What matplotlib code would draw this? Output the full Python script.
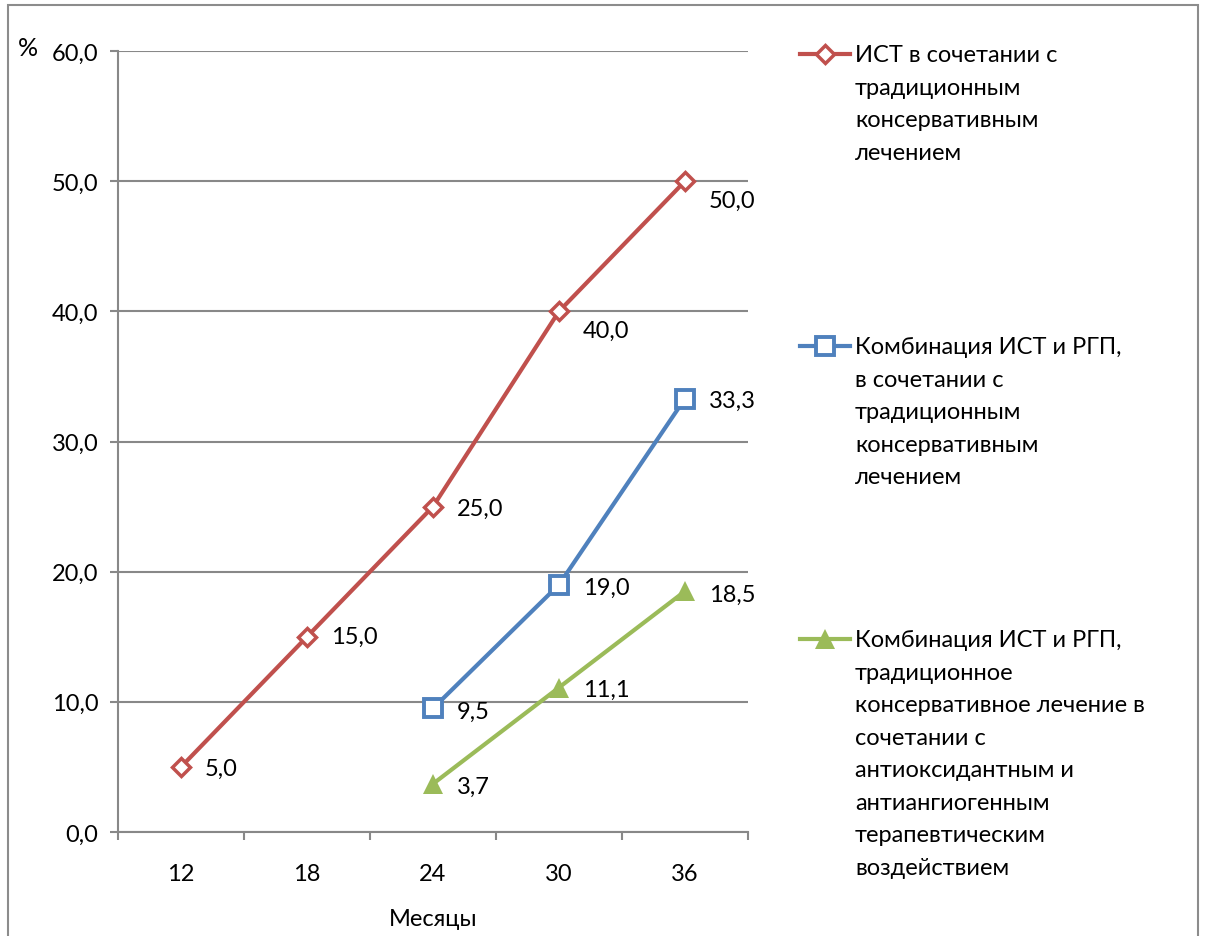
import matplotlib
matplotlib.use("Agg")
import matplotlib.pyplot as plt
from matplotlib.lines import Line2D
from matplotlib.patches import Rectangle

plt.rcParams['font.family'] = ['Lato', 'DejaVu Sans']

# Data
months = ["12", "18", "24", "30", "36"]
ist_trad = [5.0, 15.0, 25.0, 40.0, 50.0]
ist_rgp_trad = [None, None, 9.5, 19.0, 33.3]
ist_rgp_antiox = [None, None, 3.7, 11.1, 18.5]
yticks = [0, 10, 20, 30, 40, 50, 60]
legend_labels = [
    "ИСТ в сочетании с\nтрадиционным\nконсервативным\nлечением",
    "Комбинация ИСТ и РГП,\nв сочетании с\nтрадиционным\nконсервативным\nлечением",
    "Комбинация ИСТ и РГП,\nтрадиционное\nконсервативное лечение в\nсочетании с\nантиоксидантным и\nантиангиогенным\nтерапевтическим\nвоздействием",
]

RED = "#C0504D"
BLUE = "#4F81BD"
GREEN = "#9BBB59"
GRID = "#888888"
FS = 17

W, H = 1205, 937
fig = plt.figure(figsize=(W / 100, H / 100), dpi=100)
fig.patch.set_facecolor("white")
fig.patches.append(Rectangle((8 / W, -0.01), (1198 - 8) / W, 1 - 6 / H + 0.01,
                             transform=fig.transFigure, fill=False,
                             edgecolor="#8c8c8c", linewidth=1.5))

ax = fig.add_axes([118 / W, 1 - 833 / H, (748 - 118) / W, (833 - 52) / H])

series = [
    (ist_trad, RED, dict(marker="D", markersize=9, markerfacecolor="white",
                         markeredgewidth=2.5, markeredgecolor=RED)),
    (ist_rgp_trad, BLUE, dict(marker="s", markersize=13, markerfacecolor="white",
                              markeredgewidth=2.8, markeredgecolor=BLUE)),
    (ist_rgp_antiox, GREEN, dict(marker="^", markersize=14, markerfacecolor=GREEN,
                                 markeredgewidth=0, markeredgecolor=GREEN)),
]

# vertical label offsets (points) for each series/value
label_dy = [
    [-1, 0, -1, -14, -14],
    [0, 0, -2, -2, -1],
    [-2, -2, -2, -1, -2],
]

handles = []
for si, (vals, col, mk) in enumerate(series):
    xs = [i for i, v in enumerate(vals) if v is not None]
    ys = [v for v in vals if v is not None]
    ax.plot(xs, ys, color=col, linewidth=3, solid_joinstyle="round", zorder=3, **mk)
    handles.append((col, mk))
    for x, y in zip(xs, ys):
        ax.annotate(f"{y:.1f}".replace(".", ","), (x, y), xytext=(17, label_dy[si][x]),
                    textcoords="offset points", ha="left", va="center",
                    fontsize=FS, color="black", zorder=4)

ax.set_xlim(-0.5, 4.5)
ax.set_ylim(0, 60)
ax.set_yticks(yticks)
ax.set_yticklabels([f"{v:.1f}".replace(".", ",") for v in yticks], fontsize=FS)
ax.set_xticks(range(len(months)))
ax.set_xticklabels(months, fontsize=FS)
ax.set_xticks([i - 0.5 for i in range(len(months) + 1)], minor=True)
ax.tick_params(axis="x", which="major", length=0, pad=22)
ax.tick_params(axis="x", which="minor", length=6, width=1.5, color=GRID, direction="out")
ax.tick_params(axis="y", length=6, width=1.5, color=GRID, direction="out", pad=8)
ax.yaxis.grid(True, color=GRID, linewidth=1.5)
ax.set_axisbelow(True)
for s in ["top", "right"]:
    ax.spines[s].set_visible(False)
for s in ["left", "bottom"]:
    ax.spines[s].set_color(GRID)
    ax.spines[s].set_linewidth(1.5)

fig.text(433 / W, 1 - 920 / H, "Месяцы", fontsize=FS, ha="center", va="center")
fig.text(18 / W, 1 - 48 / H, "%", fontsize=FS + 1, ha="left", va="center")

# legend, drawn beside the plot area
legend_rows = [55, 347, 640]
for (col, mk), label, row in zip(handles, legend_labels, legend_rows):
    y = 1 - row / H
    fig.add_artist(Line2D([800 / W, 825 / W, 850 / W], [y, y, y], transform=fig.transFigure,
                          color=col, linewidth=3, markevery=[1], **mk))
    fig.text(855 / W, 1 - (row - 10) / H, label, fontsize=FS, ha="left", va="top",
             linespacing=1.68, transform=fig.transFigure)

fig.savefig("out.png", dpi=100)
